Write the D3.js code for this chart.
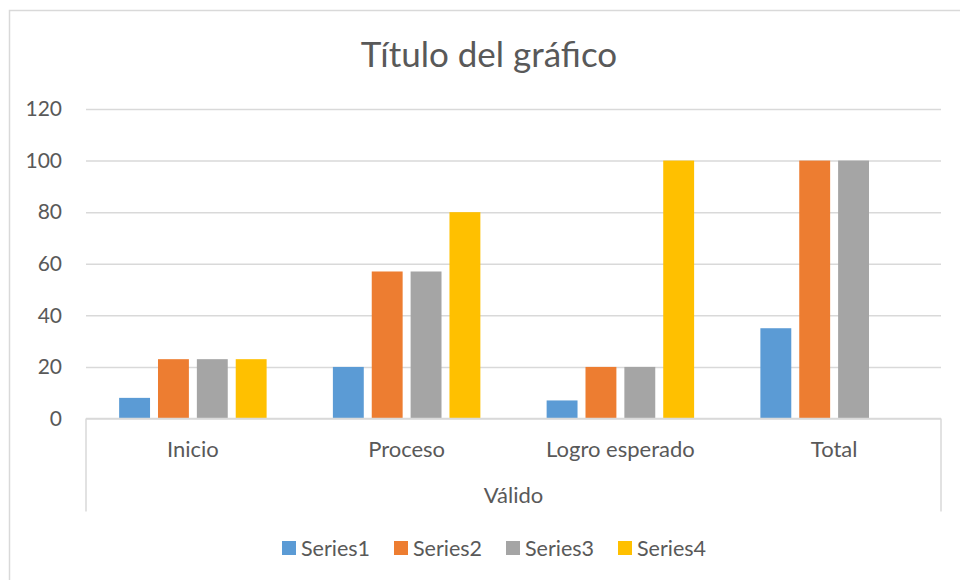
<!DOCTYPE html>
<html>
<head>
<meta charset="utf-8">
<script src="https://cdn.jsdelivr.net/npm/d3@7"></script>
<style>
  body { margin: 0; background: #fff; }
  text { font-family: Lato, "Open Sans", sans-serif; fill: #595959; }
</style>
</head>
<body>
<svg id="chart"></svg>
<script>
// chart data
let categories = ["Inicio", "Proceso", "Logro esperado", "Total"],
    seriesNames = ["Series1", "Series2", "Series3", "Series4"],
    series1 = [8, 20, 7, 35],
    series2 = [23, 57, 20, 100],
    series3 = [23, 57, 20, 100],
    series4 = [23, 80, 100, 0],
    yTicks = [0, 20, 40, 60, 80, 100, 120],
    groupLabel = "Válido",
    chartTitle = "Título del gráfico";

let colors = ["#5B9BD5", "#ED7D31", "#A5A5A5", "#FFC000"];

let W = 960, H = 580;
let margin = {top: 109, right: 19, bottom: 161.5, left: 86},
  width = W - margin.left - margin.right,
  height = H - margin.top - margin.bottom;

let allSeries = [series1, series2, series3, series4];
let rows = categories.map(function(c, i) {
  return {cat: c, vals: allSeries.map(function(s, j) { return {name: seriesNames[j], v: s[i], k: j}; })};
});

let svg = d3.select("#chart").attr("width", W).attr("height", H);

// outer chart border
svg.append("rect")
  .attr("x", 9.5).attr("y", 10.5)
  .attr("width", W).attr("height", H)
  .attr("fill", "none").attr("stroke", "#d9d9d9").attr("stroke-width", 1.5);

svg.append("text")
  .attr("x", 489).attr("y", 67)
  .attr("text-anchor", "middle")
  .style("font-size", "35px")
  .text(chartTitle);

let g = svg.append("g")
  .attr("transform", "translate(" + margin.left + "," + margin.top + ")");

let x0 = d3.scaleBand().domain(categories).range([0, width]).paddingInner(0.31).paddingOuter(0.155),
    x1 = d3.scaleBand().domain(seriesNames).range([0, x0.bandwidth()]).paddingInner(0.205),
    y = d3.scaleLinear().domain([0, 120]).range([height, 0]);

// gridlines + y labels
let yAxis = d3.axisLeft(y).tickValues(yTicks).tickSize(-width).tickPadding(24);
g.append("g").call(yAxis)
  .call(function(a) {
    a.select(".domain").remove();
    a.selectAll("line").attr("stroke", "#d9d9d9").attr("stroke-width", 1.5);
    a.selectAll("text").style("font-size", "21px").attr("fill", "#595959").style("font-family", "Lato");
  });

// bars
let groups = g.selectAll(".grp").data(rows).enter().append("g")
  .attr("transform", function(d) { return "translate(" + x0(d.cat) + ",0)"; });

groups.selectAll("rect").data(function(d) { return d.vals.filter(function(e) { return e.v > 0; }); })
  .enter().append("rect")
  .attr("x", function(d) { return x1(d.name); })
  .attr("y", function(d) { return y(d.v); })
  .attr("width", x1.bandwidth())
  .attr("height", function(d) { return y(0) - y(d.v); })
  .attr("fill", function(d) { return colors[d.k]; });

// category axis (two levels)
let xAxis = d3.axisBottom(x0).tickSize(0).tickPadding(23);
g.append("g").attr("transform", "translate(0," + height + ")").call(xAxis)
  .call(function(a) {
    a.select(".domain").remove();
    a.selectAll("text").style("font-size", "22px").attr("fill", "#595959").style("font-family", "Lato");
  });

let axisLines = g.append("g").attr("stroke", "#d9d9d9").attr("stroke-width", 1.5);
axisLines.append("line").attr("x1", 0).attr("x2", width).attr("y1", y(0)).attr("y2", y(0));
axisLines.append("line").attr("x1", 0).attr("x2", 0).attr("y1", y(0)).attr("y2", y(0) + 93);
axisLines.append("line").attr("x1", width).attr("x2", width).attr("y1", y(0)).attr("y2", y(0) + 93);

g.append("text")
  .attr("x", width / 2).attr("y", height + 84)
  .attr("text-anchor", "middle")
  .style("font-size", "22px")
  .text(groupLabel);

// legend
let legendX = [282, 394, 506, 618];
let legend = svg.append("g").selectAll("g").data(seriesNames).enter().append("g")
  .attr("transform", function(d, i) { return "translate(" + legendX[i] + ",541)"; });
legend.append("rect").attr("width", 14).attr("height", 14)
  .attr("fill", function(d, i) { return colors[i]; });
legend.append("text").attr("x", 19).attr("y", 14.5)
  .style("font-size", "21.5px")
  .text(function(d) { return d; });
</script>
</body>
</html>
